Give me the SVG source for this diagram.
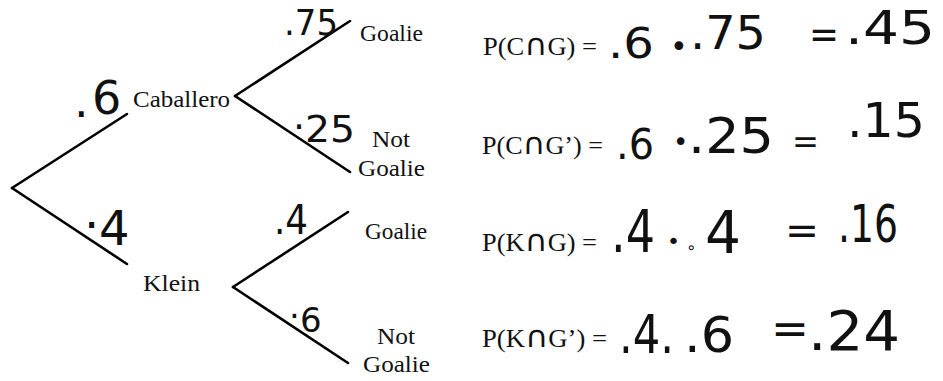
<svg xmlns="http://www.w3.org/2000/svg" width="943" height="381" viewBox="0 0 943 381">
<style>
.bg{fill:#fff}
.edge{stroke:#000;stroke-width:2.6;fill:none;stroke-linecap:round}
.lbl{font-family:"Liberation Serif","Times New Roman",serif;font-size:24px;fill:#111}
.eq{font-family:"Liberation Serif","Times New Roman",serif;font-size:25px;fill:#111}
.cap{font-family:"DejaVu Sans","Liberation Sans",sans-serif;font-size:30px}
.hw{font-family:"DejaVu Sans","Liberation Sans",sans-serif;fill:#111}
</style>
<rect class="bg" x="0" y="0" width="943" height="381"/>
<g id="connectors">
<line class="edge" x1="12" y1="188" x2="127" y2="114"/>
<line class="edge" x1="12" y1="188" x2="127" y2="264"/>
<line class="edge" x1="235" y1="96" x2="350" y2="21"/>
<line class="edge" x1="235" y1="96" x2="350" y2="172"/>
<line class="edge" x1="233" y1="287" x2="348" y2="212"/>
<line class="edge" x1="233" y1="287" x2="348" y2="363"/>
<g id="edge-labels" class="hw">
<text font-size="46"><tspan x="74" y="117">.</tspan><tspan x="92" y="114">6</tspan></text>
<text font-size="48"><tspan x="84" y="228">.</tspan><tspan x="99" y="245">4</tspan></text>
<text x="284" y="35" font-size="36" textLength="54" lengthAdjust="spacingAndGlyphs">.75</text>
<text font-size="38"><tspan x="293" y="129">.</tspan><tspan y="142" textLength="50" lengthAdjust="spacingAndGlyphs" x="305">25</tspan></text>
<text x="274" y="234" font-size="40" textLength="34" lengthAdjust="spacingAndGlyphs">.4</text>
<text font-size="34"><tspan x="289" y="318">.</tspan><tspan x="300" y="332">6</tspan></text>
</g>
</g>
<g id="node-caballero"><text class="lbl" x="133" y="107" textLength="97" lengthAdjust="spacingAndGlyphs">Caballero</text></g>
<g id="node-klein"><text class="lbl" x="143" y="291" textLength="57" lengthAdjust="spacingAndGlyphs">Klein</text></g>
<g id="node-c-goalie"><text class="lbl" x="360" y="41" textLength="63" lengthAdjust="spacingAndGlyphs">Goalie</text></g>
<g id="node-c-notgoalie"><text class="lbl" x="372" y="147" textLength="38" lengthAdjust="spacingAndGlyphs">Not</text><text class="lbl" x="358" y="176" textLength="67" lengthAdjust="spacingAndGlyphs">Goalie</text></g>
<g id="node-k-goalie"><text class="lbl" x="365" y="239" textLength="62" lengthAdjust="spacingAndGlyphs">Goalie</text></g>
<g id="node-k-notgoalie"><text class="lbl" x="377" y="344" textLength="38" lengthAdjust="spacingAndGlyphs">Not</text><text class="lbl" x="363" y="372" textLength="67" lengthAdjust="spacingAndGlyphs">Goalie</text></g>
<g id="eq-cg">
<text class="eq" x="483" y="55" textLength="114" lengthAdjust="spacingAndGlyphs">P(C<tspan class="cap">∩</tspan>G) =</text>
<g class="hw">
<text x="608" y="58" font-size="42" textLength="46" lengthAdjust="spacingAndGlyphs">.6</text>
<text x="670" y="57" font-size="30">•</text>
<text x="690" y="49" font-size="46" textLength="76" lengthAdjust="spacingAndGlyphs">.75</text>
<text x="809" y="48" font-size="40" textLength="30" lengthAdjust="spacingAndGlyphs">=</text>
<text x="845" y="44" font-size="46" textLength="90" lengthAdjust="spacingAndGlyphs">.45</text>
</g>
</g>
<g id="eq-cng">
<text class="eq" x="482" y="154" textLength="121" lengthAdjust="spacingAndGlyphs">P(C<tspan class="cap">∩</tspan>G’) =</text>
<g class="hw">
<text x="616" y="159" font-size="42" textLength="38" lengthAdjust="spacingAndGlyphs">.6</text>
<text x="673" y="151" font-size="26">•</text>
<text x="688" y="153" font-size="50" textLength="86" lengthAdjust="spacingAndGlyphs">.25</text>
<text x="792" y="153" font-size="34" textLength="27" lengthAdjust="spacingAndGlyphs">=</text>
<text x="847" y="137" font-size="48" textLength="78" lengthAdjust="spacingAndGlyphs">.15</text>
</g>
</g>
<g id="eq-kg">
<text class="eq" x="482" y="251" textLength="115" lengthAdjust="spacingAndGlyphs">P(K<tspan class="cap">∩</tspan>G) =</text>
<g class="hw">
<text x="611" y="252" font-size="58" textLength="44" lengthAdjust="spacingAndGlyphs">.4</text>
<text x="667" y="249" font-size="22">•</text>
<text x="686" y="253" font-size="16">∘</text>
<text x="705" y="253" font-size="58" textLength="36" lengthAdjust="spacingAndGlyphs">4</text>
<text x="785" y="244" font-size="40" textLength="34" lengthAdjust="spacingAndGlyphs">=</text>
<text x="838" y="242" font-size="52" textLength="60" lengthAdjust="spacingAndGlyphs">.16</text>
</g>
</g>
<g id="eq-kng">
<text class="eq" x="482" y="347" textLength="125" lengthAdjust="spacingAndGlyphs">P(K<tspan class="cap">∩</tspan>G’) =</text>
<g class="hw">
<text x="619" y="353" font-size="54" textLength="55" lengthAdjust="spacingAndGlyphs">.4.</text>
<text x="684" y="352" font-size="50" textLength="50" lengthAdjust="spacingAndGlyphs">.6</text>
<text x="771" y="344" font-size="44" textLength="38" lengthAdjust="spacingAndGlyphs">=</text>
<text x="808" y="350" font-size="56" textLength="92" lengthAdjust="spacingAndGlyphs">.24</text>
</g>
</g>
</svg>
